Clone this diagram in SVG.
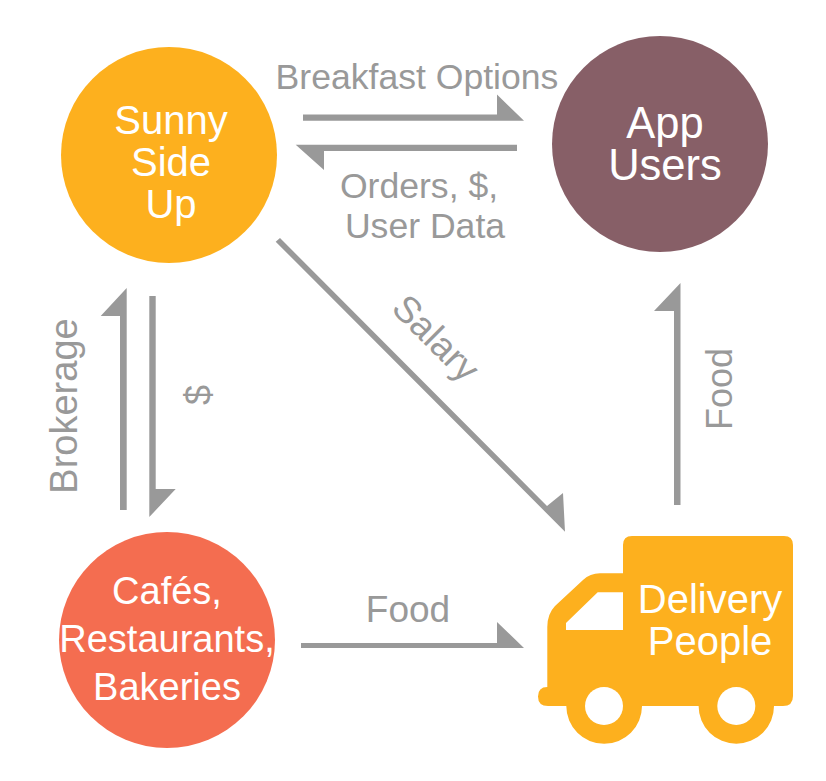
<svg xmlns="http://www.w3.org/2000/svg" width="826" height="781" viewBox="0 0 826 781">
<style>
text{font-family:"Liberation Sans",Arial,sans-serif;text-anchor:middle}
.w{fill:#fff}
.g{fill:#999}
.a{fill:#999}
</style>
<rect width="826" height="781" fill="#fff"/>
<g id="connectors">
<polygon class="a" points="303,114.500 497,114.500 497,94.500 524,120.800 303,120.800"/>
<polygon class="a" points="517,144.800 295.700,144.800 324,170 324,151 517,151"/>
<polygon class="a" points="120,510 120,316 100.700,316 126.700,288 126.700,510"/>
<polygon class="a" points="149.300,296 155.700,296 155.700,489 175.700,489 149.300,517"/>
<polygon class="a" points="275.700,241.700 280,238 547,506 563,493 565,531.700"/>
<polygon class="a" points="301,643 497,643 497,622 524,648 301,648"/>
<polygon class="a" points="674,505 674,311 654,311 680.500,283 680.500,505"/>
<text class="g" font-size="35.600" x="417" y="89">Breakfast Options</text>
<text class="g" font-size="35.600" x="419" y="198">Orders, $,</text>
<text class="g" font-size="35.600" x="425" y="238">User Data</text>
<text class="g" font-size="38" transform="translate(77,406) rotate(-90)">Brokerage</text>
<text class="g" font-size="36" transform="translate(211,395) rotate(-90)">$</text>
<text class="g" font-size="37" transform="translate(427,347) rotate(45)">Salary</text>
<text class="g" font-size="36" transform="translate(732,389) rotate(-90)">Food</text>
<text class="g" font-size="37" x="408" y="622">Food</text>
</g>
<g id="sunny-side-up">
<circle cx="169" cy="155" r="108" fill="#fdb01e"/>
<text class="w" font-size="40" x="171" y="134">Sunny</text>
<text class="w" font-size="40" x="171" y="176">Side</text>
<text class="w" font-size="40" x="171" y="218">Up</text>
</g>
<g id="app-users">
<circle cx="660" cy="144" r="108" fill="#875f67"/>
<text class="w" font-size="43.500" x="665" y="138">App</text>
<text class="w" font-size="43.500" x="665" y="180">Users</text>
</g>
<g id="cafes">
<circle cx="167" cy="640" r="108" fill="#f46d50"/>
<text class="w" font-size="38" x="167" y="604">Cafés,</text>
<text class="w" font-size="38" x="167" y="652">Restaurants,</text>
<text class="w" font-size="38" x="167" y="700">Bakeries</text>
</g>
<g id="delivery-people">
<path fill-rule="evenodd" fill="#fdb01e" d="M623,545 Q623,536 632,536 H784 Q793,536 793,545 V696 Q793,706 783,706 H774 A37.700,37.700 0 0 1 698.600,706 H642 A37.700,37.700 0 0 1 566.300,706 H548 Q538,706 538,696.500 Q538,687 547.300,687 V627 Q547.300,614 555,606 L583,580 Q590,573.300 600,573.300 H623 Z M597.700,592.300 H623 V630 H566 V623 Z"/>
<circle cx="604" cy="706" r="19" fill="#fff"/>
<circle cx="736.300" cy="706" r="19" fill="#fff"/>
<text class="w" font-size="40" x="710" y="613">Delivery</text>
<text class="w" font-size="40" x="710" y="655">People</text>
</g>
</svg>
